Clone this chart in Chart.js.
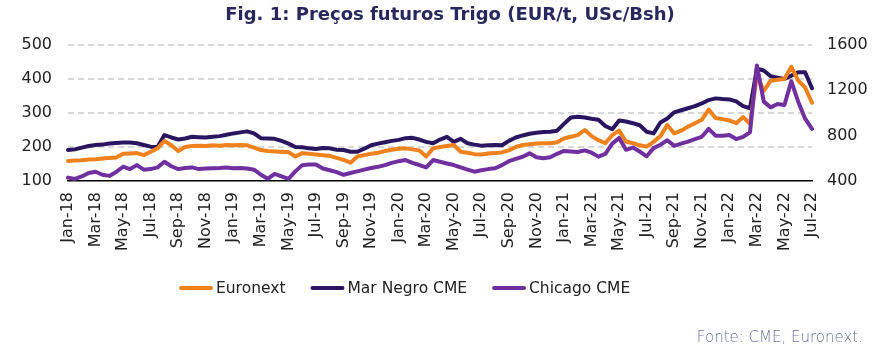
<!DOCTYPE html>
<html>
<head>
<meta charset="utf-8">
<script src="https://cdn.jsdelivr.net/npm/chart.js@4/dist/chart.umd.min.js"></script>
<style>
  html, body { margin: 0; padding: 0; background: #ffffff; }
  canvas { display: block; }
</style>
</head>
<body>
<canvas id="c" width="895" height="351"></canvas>
<script>
// Tick labels shown every two months
const tickLabels = ['Jan-18','Mar-18','May-18','Jul-18','Sep-18','Nov-18','Jan-19','Mar-19','May-19','Jul-19','Sep-19','Nov-19',
  'Jan-20','Mar-20','May-20','Jul-20','Sep-20','Nov-20','Jan-21','Mar-21','May-21','Jul-21','Sep-21','Nov-21',
  'Jan-22','Mar-22','May-22','Jul-22'];
const monthNames = ['Jan','Feb','Mar','Apr','May','Jun','Jul','Aug','Sep','Oct','Nov','Dec'];

// Categories: half-month observations, Jan-2018 to Jul-2022
const categories = [];
for (let y = 2018; y <= 2022; y++) {
  for (let mo = 0; mo < 12; mo++) {
    if (y === 2022 && mo > 6) break;
    const tag = monthNames[mo] + '-' + String(y).slice(2);
    categories.push(tag + ' (1)');
    if (!(y === 2022 && mo === 6)) categories.push(tag + ' (2)');
  }
}

// Euronext (EUR/t, left axis)
const euronext = [
  159,160,161,163,164,166,168,169,180,181,
  182,176,186,196,218,205,188,200,203,204,
  203,205,204,206,205,206,205,198,191,188,
  187,186,185,172,182,180,178,176,174,168,
  162,154,172,176,180,183,188,192,195,196,
  193,190,172,196,200,203,206,186,183,179,
  178,181,182,184,190,200,206,208,210,211,
  211,214,225,230,235,250,232,220,211,235,
  248,216,211,205,201,215,232,265,240,248,
  260,270,280,310,285,282,278,270,288,268,
  410,365,395,398,400,436,395,375,330
];

// Mar Negro CME (USD/t, left axis)
const marNegro = [
  191,193,198,203,206,207,210,212,213,213,
  211,206,201,200,235,228,222,225,230,229,
  228,230,232,236,240,243,246,240,226,225,
  224,218,210,200,199,196,194,197,196,192,
  191,186,186,195,205,210,214,218,221,226,
  227,222,215,211,222,230,215,224,211,207,
  204,205,206,205,218,228,234,239,242,244,
  245,248,268,287,289,287,283,280,262,252,
  278,275,270,264,245,240,272,284,302,308,
  314,320,328,338,343,341,340,334,320,314,
  430,425,408,404,400,410,420,420,373
];

// Chicago CME (USc/bushel, right axis)
const chicago = [
  430,418,440,470,482,455,445,480,526,505,
  540,500,505,520,570,530,505,515,520,505,
  510,512,515,520,512,515,510,500,455,420,
  462,440,418,485,540,545,545,510,495,478,
  455,470,485,500,515,525,540,560,575,585,
  560,541,520,585,570,555,541,520,500,482,
  495,505,512,540,575,595,614,644,610,600,
  610,640,665,660,656,670,650,615,640,730,
  780,675,695,660,618,690,720,760,710,730,
  747,770,790,860,800,800,806,770,790,830,
  1420,1100,1050,1080,1070,1280,1100,950,860
];

const COLORS = { euronext: '#F0821E', marNegro: '#2A1660', chicago: '#7030A0' };
const FONT = '"DejaVu Sans", "Open Sans", sans-serif';
Chart.defaults.font.family = FONT;

const decorations = {
  id: 'decorations',
  beforeDatasetsDraw(chart) {
    // dashed horizontal grid lines of the left axis (200..500)
    const ctx = chart.ctx, area = chart.chartArea, ys = chart.scales.y;
    ctx.save();
    ctx.strokeStyle = '#CCCCCC';
    ctx.lineWidth = 1.5;
    ctx.setLineDash([6, 4]);
    [200, 300, 400, 500].forEach(v => {
      const py = Math.round(ys.getPixelForValue(v));
      ctx.beginPath();
      ctx.moveTo(area.left, py);
      ctx.lineTo(area.right, py);
      ctx.stroke();
    });
    ctx.restore();
  },
  afterDraw(chart) {
    const ctx = chart.ctx;
    ctx.save();
    // Title
    ctx.font = 'bold 18px ' + FONT;
    ctx.fillStyle = '#29285E';
    ctx.textAlign = 'center';
    ctx.textBaseline = 'alphabetic';
    ctx.fillText('Fig. 1: Preços futuros Trigo (EUR/t, USc/Bsh)', 450, 20);
    // Source
    ctx.font = '300 15px ' + FONT;
    ctx.fillStyle = '#6B7591';
    ctx.textAlign = 'right';
    ctx.fillText('Fonte: CME, Euronext.', 863, 342);
    // Legend
    ctx.font = '15.5px ' + FONT;
    ctx.textAlign = 'left';
    ctx.textBaseline = 'middle';
    let x = 179;
    const y = 288;
    chart.data.datasets.forEach(ds => {
      ctx.strokeStyle = ds.borderColor;
      ctx.lineWidth = 4;
      ctx.lineCap = 'round';
      ctx.beginPath();
      ctx.moveTo(x + 2, y);
      ctx.lineTo(x + 32, y);
      ctx.stroke();
      ctx.fillStyle = '#222222';
      ctx.fillText(ds.label, x + 37, y + 1);
      x += 37 + ctx.measureText(ds.label).width + 25;
    });
    ctx.restore();
  }
};

new Chart(document.getElementById('c'), {
  type: 'line',
  data: {
    labels: categories,
    datasets: [
      { label: 'Euronext', data: euronext, yAxisID: 'y', borderColor: COLORS.euronext, backgroundColor: COLORS.euronext, order: 2 },
      { label: 'Mar Negro CME', data: marNegro, yAxisID: 'y', borderColor: COLORS.marNegro, backgroundColor: COLORS.marNegro, order: 3 },
      { label: 'Chicago CME', data: chicago, yAxisID: 'y1', borderColor: COLORS.chicago, backgroundColor: COLORS.chicago, order: 1 }
    ]
  },
  options: {
    responsive: false,
    animation: false,
    devicePixelRatio: 1,
    elements: {
      line: { borderWidth: 4, tension: 0, borderJoinStyle: 'round', borderCapStyle: 'round' },
      point: { radius: 0, hoverRadius: 0 }
    },
    layout: { padding: { top: 45, bottom: 96, left: 0, right: 0 } },
    plugins: { legend: { display: false }, tooltip: { enabled: false }, title: { display: false } },
    scales: {
      x: {
        type: 'category',
        offset: false,
        grid: { display: false, drawTicks: false },
        border: { display: true, color: '#000000', width: 1.5 },
        ticks: {
          autoSkip: false, minRotation: 90, maxRotation: 90, padding: 11,
          color: '#222222', font: { size: 16 },
          callback: (val, idx) => (idx % 4 === 0 ? tickLabels[idx / 4] : '')
        },
        afterFit: s => { s.height = 74; }
      },
      y: {
        position: 'left', min: 100, max: 500,
        ticks: { stepSize: 100, padding: 16, color: '#222222', font: { size: 16 }, callback: v => String(v) },
        grid: { display: false, drawTicks: false },
        border: { display: false },
        afterFit: s => { s.width = 68; }
      },
      y1: {
        position: 'right', min: 400, max: 1600,
        ticks: { stepSize: 400, padding: 15, color: '#222222', font: { size: 16 }, callback: v => String(v) },
        grid: { display: false, drawTicks: false },
        border: { display: false },
        afterFit: s => { s.width = 83; }
      }
    }
  },
  plugins: [decorations]
});
</script>
</body>
</html>
